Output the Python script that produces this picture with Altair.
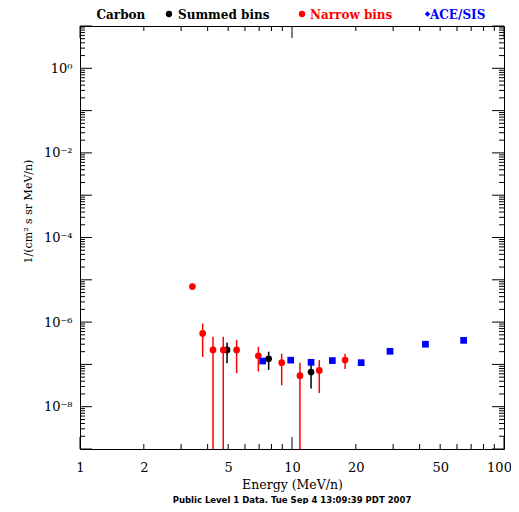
import altair as alt
import pandas as pd

# ---- data ----
narrow_E = [3.39, 3.79, 4.24, 4.74, 5.48, 6.94, 8.94, 10.9, 13.45, 17.8]
narrow_F = [6.9e-6, 5.4e-7, 2.2e-7, 2.2e-7, 2.2e-7, 1.6e-7, 1.1e-7, 5.4e-8, 7.2e-8, 1.27e-7]
narrow_hi = [8.1e-6, 9.3e-7, 4.5e-7, 4.5e-7, 3.8e-7, 2.6e-7, 1.8e-7, 1.1e-7, 1.26e-7, 1.78e-7]
narrow_lo = [5.9e-6, 1.5e-7, 1e-12, 1e-12, 6.2e-8, 6.8e-8, 3.2e-8, 1e-12, 2.1e-8, 7.8e-8]

summed_E = [4.94, 7.76, 12.3]
summed_F = [2.2e-7, 1.36e-7, 6.6e-8]
summed_hi = [3.3e-7, 2.0e-7, 1.07e-7]
summed_lo = [1.07e-7, 7.4e-8, 2.7e-8]

ace_E = [7.27, 9.86, 12.3, 15.5, 21.2, 29.0, 42.6, 64.5]
ace_F = [1.2e-7, 1.26e-7, 1.12e-7, 1.23e-7, 1.1e-7, 2.04e-7, 3.0e-7, 3.7e-7]

x_label_values = [1, 2, 5, 10, 20, 50, 100]
y_label_values = [1e0, 1e-2, 1e-4, 1e-6, 1e-8]
x_major_ticks = [1, 10, 100]
x_minor_ticks = [2, 3, 4, 5, 6, 7, 8, 9, 20, 30, 40, 50, 60, 70, 80, 90]
y_major_ticks = [1e-9, 1e-8, 1e-7, 1e-6, 1e-5, 1e-4, 1e-3, 1e-2, 1e-1, 1e0, 1e1]
y_minor_ticks = [k * 10.0 ** n for n in range(-9, 1) for k in range(2, 10)]

RED = "#ff0000"
BLUE = "#0000ff"
BLACK = "#000000"
FONT = "DejaVu Serif"

W, H = 424, 423

x_scale = alt.Scale(type="log", domain=[1, 100], nice=False)
y_scale = alt.Scale(type="log", domain=[1e-9, 10], nice=False)

x_axis = alt.Axis(values=x_label_values, ticks=False, tickSize=0, domain=False, grid=False,
                  labelFont=FONT, labelFontSize=13, labelPadding=12, labelFlush=False,
                  labelOffset={"condition": {"test": "datum.value >= 99", "value": -5}, "value": 0},
                  labelColor=BLACK, format="d",
                  title="Energy (MeV/n)", titleFont=FONT, titleFontSize=12.5,
                  titleFontWeight="normal", titleColor=BLACK, titlePadding=4)
y_axis = alt.Axis(values=y_label_values, ticks=False, tickSize=0, domain=False, grid=False,
                  labelFont=FONT, labelFontSize=13, labelPadding=8, labelColor=BLACK,
                  labelExpr="datum.value > 0.5 ? '10⁰' : datum.value > 0.005 ? '10⁻²' : "
                            "datum.value > 0.00005 ? '10⁻⁴' : datum.value > 0.0000005 ? '10⁻⁶' : '10⁻⁸'",
                  title="1/(cm² s sr MeV/n)", titleFont=FONT, titleFontSize=11,
                  titleFontWeight="normal", titleColor=BLACK,
                  titleX=-52, titleY=185, titleAngle=270, titleAlign="center",
                  titleBaseline="middle")


def X(field):
    return alt.X(f"{field}:Q", scale=x_scale, axis=x_axis)


def Y(field):
    return alt.Y(f"{field}:Q", scale=y_scale, axis=y_axis)


df_n = pd.DataFrame({"E": narrow_E, "F": narrow_F, "lo": narrow_lo, "hi": narrow_hi})
df_s = pd.DataFrame({"E": summed_E, "F": summed_F, "lo": summed_lo, "hi": summed_hi})
df_a = pd.DataFrame({"E": ace_E, "F": ace_F})

layers = []

# data: summed (black) under narrow (red), ACE on top
for df, col in [(df_s, BLACK), (df_n, RED)]:
    layers.append(alt.Chart(df).mark_rule(color=col, strokeWidth=1.5, clip=True).encode(
        x=X("E"), y=Y("lo"), y2="hi:Q"))
    layers.append(alt.Chart(df).mark_point(shape="circle", filled=True, opacity=1,
                                           size=45, color=col, clip=True).encode(
        x=X("E"), y=Y("F")))
layers.append(alt.Chart(df_a).mark_point(shape="square", filled=True, opacity=1,
                                         size=45, color=BLUE, clip=True).encode(
    x=X("E"), y=Y("F")))

# inward tick marks on all four sides
dx_maj = pd.DataFrame({"t": x_major_ticks})
dx_min = pd.DataFrame({"t": x_minor_ticks})
dy_maj = pd.DataFrame({"t": y_major_ticks})
dy_min = pd.DataFrame({"t": y_minor_ticks})
for d, ln in [(dx_maj, 12), (dx_min, 5)]:
    layers.append(alt.Chart(d).mark_rule(color=BLACK, strokeWidth=1).encode(
        x=X("t"), y=alt.value(H), y2=alt.value(H - ln)))
    layers.append(alt.Chart(d).mark_rule(color=BLACK, strokeWidth=1).encode(
        x=X("t"), y=alt.value(0), y2=alt.value(ln)))
for d, ln in [(dy_maj, 12), (dy_min, 5)]:
    layers.append(alt.Chart(d).mark_rule(color=BLACK, strokeWidth=1).encode(
        y=Y("t"), x=alt.value(0), x2=alt.value(ln)))
    layers.append(alt.Chart(d).mark_rule(color=BLACK, strokeWidth=1).encode(
        y=Y("t"), x=alt.value(W), x2=alt.value(W - ln)))

# header legend
one = pd.DataFrame({"a": [0]})
LEG_BASE = -7.5
for txt, x0, col in [("Carbon", 16.5, BLACK), ("Summed bins", 98, BLACK),
                     ("Narrow bins", 230, RED), ("ACE/SIS", 350, BLUE)]:
    layers.append(alt.Chart(one).mark_text(text=txt, align="left", baseline="alphabetic",
                                           font=FONT, fontSize=12, fontWeight="bold",
                                           color=col).encode(
        x=alt.value(x0), y=alt.value(LEG_BASE)))
for x0, col, shp, sz in [(89, BLACK, "circle", 40), (222, RED, "circle", 40),
                         (347.5, BLUE, "diamond", 30)]:
    layers.append(alt.Chart(one).mark_point(shape=shp, filled=True, opacity=1, size=sz,
                                            color=col).encode(
        x=alt.value(x0), y=alt.value(-12)))

# footer
layers.append(alt.Chart(one).mark_text(text="Public Level 1 Data. Tue Sep  4 13:09:39 PDT 2007",
                                       align="center", baseline="middle", font="DejaVu Sans",
                                       fontSize=8.5, fontWeight="bold", color=BLACK).encode(
    x=alt.value(W / 2), y=alt.value(474)))

chart = alt.layer(*layers).properties(
    width=W, height=H,
    padding={"left": 72, "top": 18, "right": 7, "bottom": 55},
    autosize=alt.AutoSizeParams(type="none"),
    background="white",
).configure_view(stroke=BLACK, strokeWidth=1)

chart.save("out.html", embed_options={"renderer": "svg", "actions": False})
